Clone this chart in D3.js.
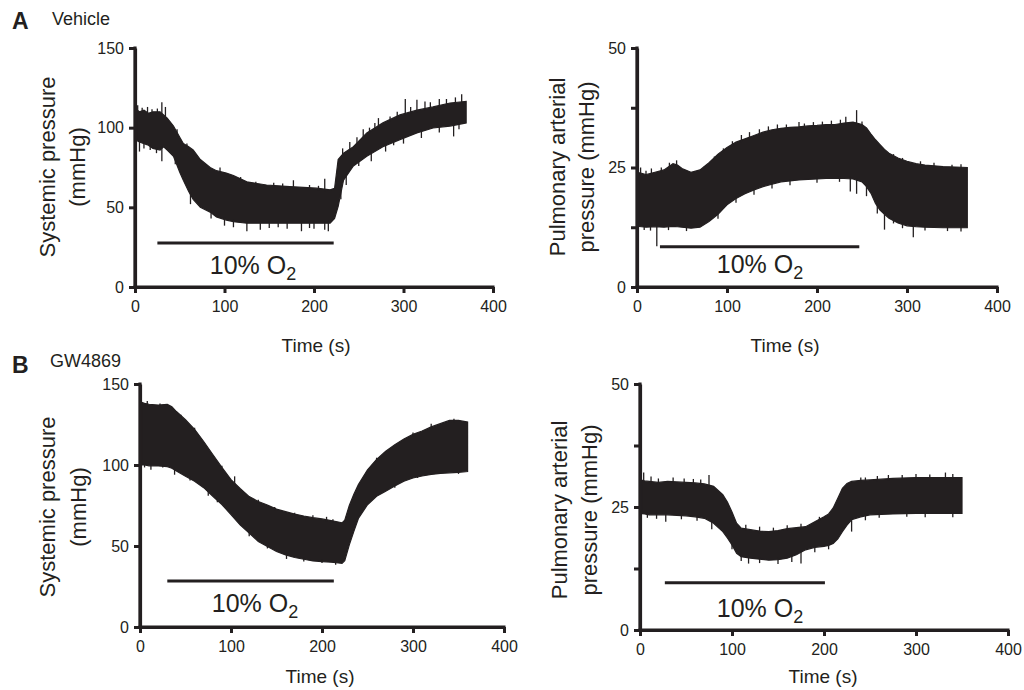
<!DOCTYPE html>
<html><head><meta charset="utf-8">
<script src="https://cdn.jsdelivr.net/npm/d3@7"></script>
<style>
body{margin:0;background:#fff}
text{font-family:"Liberation Sans",Arial,Helvetica,sans-serif;fill:#231f20}
</style></head>
<body><svg id="c" width="1024" height="690"></svg>
<script>
// ---------- DATA ----------
// Panel A, systemic pressure (Vehicle)
const timeA1  = [0,5,10,15,20,28,32,36,43,50,54,60,65,73,84,91,102,110,125,147,173,203,218,223,227,233,244,259,277,296,315,333,352,370];
const upperA1 = [112,110,111,109,110,110,108,106,101,94,90,88,86,80,75,73,71.5,70,66,64,63,62,61,62,80,84,88,96.7,103,108,111,113,115.5,116.5];
const lowerA1 = [92.5,91,90,89,87,86,88,86,82,72,67,60,55,50,47,44,42,41,40,40,40,40,40,43,50.6,67,76,82,88,92.5,96.7,99.8,101,103];
const spikesUpA1 = [[3,114],[8,112.5],[14,113],[19,111.5],[25,112],[30,116],[34,113],[47,99],[58,90],[95,75],[118,69],[135,66],[155,65.5],[165,65],[177,67],[195,64],[205,63.5],[212,68],
  [232,87],[240,91],[248,94],[255,99],[262,100],[268,103],[272,106],[285,107],[293,110],[302,118],[308,113],[315,117.5],[324,116.5],[330,116],[340,118],[348,118],[358,119],[365,121]];
const spikesDnA1 = [[5,85],[10,87],[17,86],[24,84],[30,79],[45,77],[62,52],[85,43],[100,38.5],[110,37.5],[125,35],[140,36],[150,37],[160,37.5],[170,36.5],[186,35],[195,37],[200,36.5],[212,36],[216,35],
  [230,55],[236,64],[250,76],[264,79],[280,85],[289,89],[300,90],[320,93.5],[340,97],[356,94.5],[362,99]];

// Panel A, pulmonary arterial pressure (Vehicle)
const timeA2  = [0,5,10,20,30,40,45,50,60,70,80,90,100,110,120,130,140,150,160,170,180,190,200,210,220,230,240,250,255,260,265,270,275,280,290,300,310,320,340,367];
const upperA2 = [24,23.8,23.5,24,24.5,25.8,25.5,24.8,24,24.5,26,27.8,29.2,30.3,31,31.7,32.4,32.9,33.2,33.4,33.5,33.7,33.8,34,34,34.3,34.5,34,33.3,32,30.8,29.8,28.8,28,27,26.3,25.8,25.5,25.2,25];
const lowerA2 = [12.7,12.6,12.5,12.6,12.5,12.7,12.6,12.5,12.3,12.5,13.7,15.2,17.2,18.5,19.5,20.3,21,21.5,22,22.2,22.4,22.5,22.6,22.7,22.7,22.7,22.6,22,21,19.6,17.5,16.1,15.2,14.4,13.4,12.8,12.6,12.5,12.4,12.4];
const spikesUpA2 = [[4,25],[10,24.3],[16,24.8],[27,25],[36,26],[44,26.5],[75,25.3],[86,27.3],[96,29],[106,30.5],[116,31.8],[125,32.4],[136,33],[146,33.6],[156,34],[166,34],[180,34.5],[186,34.2],[196,34.5],[206,34.6],[216,34.8],[226,35],[232,35.6],[244,37],[250,34.6],[285,27.8],[295,27],[315,26.3],[330,26],[350,25.6],[360,25.7]];
const spikesDnA2 = [[8,11.9],[15,11.8],[22,8.5],[35,11.9],[55,11.7],[90,14.3],[110,17.6],[130,19.3],[150,20.6],[170,21.3],[200,21.8],[225,22],[237,20],[244,19.5],[255,19],[267,15.4],[275,12],[285,13.3],[295,12.3],[307,10.4],[320,11.8],[345,11.7],[360,11.6]];

// Panel B, systemic pressure (GW4869)
const timeB1  = [0,5,10,20,30,35,40,50,60,70,80,90,100,110,120,130,140,150,160,170,180,190,200,210,218,222,225,230,235,240,250,260,270,280,290,300,310,320,330,340,350,360];
const upperB1 = [139,138,137.5,137,137.5,136,133,128,122,114.5,106.5,98.5,91,85.5,80.5,77.5,75.3,72.8,71.2,69.7,68.5,67.5,66.7,65.7,64.8,64.3,66,75,82,88,97,103.5,108.5,112.5,116,119,121,123.5,125.5,127.5,127.5,126.5];
const lowerB1 = [100,100,99.5,99.4,99,98,96.3,93,90,86,80.7,75.6,69.4,63,58,52.8,49.7,46.6,44.5,42.9,41.8,40.8,40.4,40,39.5,39.3,41,50.7,59,67,75.5,80.7,83.8,87,90,92,93.2,94.2,94.8,95.2,95.5,96];
const spikesUpB1 = [[8,139.5],[22,138],[45,131],[60,123],[90,99.5],[104,93],[130,78.5],[148,74],[170,70.5],[190,69],[205,68],[212,66.5],[260,104.5],[300,120],[320,125.5],[345,128.5]];
const spikesDnB1 = [[5,98.5],[12,97],[25,98.5],[38,94],[55,90.5],[75,81],[85,77],[120,56],[140,48.5],[161,42],[180,40.5],[200,39.5],[215,38.5],[280,86],[305,92],[350,94.5]];

// Panel B, pulmonary arterial pressure (GW4869)
const timeB2  = [0,5,10,20,30,40,50,60,70,80,90,95,100,105,110,120,130,140,150,160,170,180,190,200,205,210,215,220,225,230,240,250,275,300,325,350];
const upperB2 = [30.5,30.3,30.2,30,30.2,30.1,30,29.9,29.7,29.2,27.5,26,24,21.7,20.7,20.4,20.1,20,20.2,20.6,20.8,21,22,23,23.6,24.8,26.8,28.8,29.8,30.2,30.4,30.5,30.8,31,31,31];
const lowerB2 = [23.7,23.6,23.4,23.4,23.4,23.3,23.2,23,22.7,21.7,20,18.7,17.3,15.6,14.9,14.6,14.4,14.2,14.3,14.6,15.3,16.3,16.8,17,17.2,17.6,18.5,20,21.3,22.4,23,23.4,23.6,23.7,23.7,23.7];
const spikesUpB2 = [[4,32],[12,31.2],[20,30.8],[36,31],[48,30.8],[58,30.7],[66,30.6],[75,31.5],[115,21.4],[130,21],[145,20.8],[160,21.3],[175,21.6],[195,23],[240,31],[245,31],[258,31.3],[270,31.5],[285,31.5],[300,31.7],[315,31.6],[332,32],[340,31.7]];
const spikesDnB2 = [[8,22.8],[18,22.6],[28,22],[45,22.5],[62,22.2],[78,20.5],[100,16.4],[110,14],[118,13.5],[130,13.6],[150,13.4],[165,13.8],[175,13.5],[190,15.8],[205,16.4],[230,20],[245,22.3],[260,22.8],[290,23],[310,22.9],[340,22.9]];

// Hypoxia bars [start s, end s, level]
const hypoxiaA1 = [25, 222, 27.6];
const hypoxiaA2 = [25.5, 247, 8.4];
const hypoxiaB1 = [30, 213, 28.4];
const hypoxiaB2 = [27, 201, 9.6];

// Axis ticks
const xTicks = [0, 100, 200, 300, 400];
const ySysTicks = [0, 50, 100, 150];
const yPapTicks = [0, 12.5, 25, 37.5, 50];
const yPapLabels = [0, 25, 50];

const sysTitle = ["Systemic pressure", "(mmHg)"];
const papTitle = ["Pulmonary arterial", "pressure (mmHg)"];
const xTitle = "Time (s)";
const gasLabel = ["10% O", "2"];
const groupLetters = ["A", "B"];
const groupNames = ["Vehicle", "GW4869"];

// ---------- LAYOUT ----------
const ink = "#231f20";
const svg = d3.select("#c");
svg.append("rect").attr("width",1024).attr("height",690).attr("fill","#fff");

const panels = [
  {t:timeA1,u:upperA1,l:lowerA1,su:spikesUpA1,sd:spikesDnA1,hyp:hypoxiaA1,yMax:150,yt:ySysTicks,yl:ySysTicks,title:sysTitle,
   box:{x0:135,x1:493,yT:48,yB:287},titleX:[47,77],titleY:167,timeX:316,timeY:352,gasX:253,gasY:274},
  {t:timeA2,u:upperA2,l:lowerA2,su:spikesUpA2,sd:spikesDnA2,hyp:hypoxiaA2,yMax:50,yt:yPapTicks,yl:yPapLabels,title:papTitle,
   box:{x0:637,x1:997,yT:48,yB:287},titleX:[557,586],titleY:167,timeX:785,timeY:352,gasX:760,gasY:273},
  {t:timeB1,u:upperB1,l:lowerB1,su:spikesUpB1,sd:spikesDnB1,hyp:hypoxiaB1,yMax:150,yt:ySysTicks,yl:ySysTicks,title:sysTitle,
   box:{x0:140,x1:504,yT:384,yB:627},titleX:[47,78],titleY:507,timeX:320,timeY:683,gasX:255,gasY:612},
  {t:timeB2,u:upperB2,l:lowerB2,su:spikesUpB2,sd:spikesDnB2,hyp:hypoxiaB2,yMax:50,yt:yPapTicks,yl:yPapLabels,title:papTitle,
   box:{x0:640,x1:1008,yT:384,yB:630},titleX:[559,589],titleY:510,timeX:823,timeY:683,gasX:760,gasY:617}
];

panels.forEach(p => {
  const x = d3.scaleLinear().domain([0,400]).range([p.box.x0,p.box.x1]);
  const y = d3.scaleLinear().domain([0,p.yMax]).range([p.box.yB,p.box.yT]);
  const g = svg.append("g");
  const pts = p.t.map((t,i)=>({t, u:p.u[i], l:p.l[i]}));

  // trace band
  g.append("path").datum(pts)
    .attr("d", d3.area().x(d=>x(d.t)).y0(d=>y(d.l)).y1(d=>y(d.u)))
    .attr("fill", ink).attr("stroke", ink).attr("stroke-width", 1.2);

  // spikes, drawn from the band edge outward
  const interp = (arr, t) => {
    const i = d3.bisector(d=>d).left(p.t, t);
    if (i<=0) return arr[0];
    if (i>=p.t.length) return arr[arr.length-1];
    const f = (t-p.t[i-1])/(p.t[i]-p.t[i-1]);
    return arr[i-1] + f*(arr[i]-arr[i-1]);
  };
  g.selectAll(".su").data(p.su).join("line")
    .attr("x1", d=>x(d[0])).attr("x2", d=>x(d[0]))
    .attr("y1", d=>y(d[1])).attr("y2", d=>y(interp(p.u,d[0]))+2)
    .attr("stroke", ink).attr("stroke-width", 1.3);
  g.selectAll(".sd").data(p.sd).join("line")
    .attr("x1", d=>x(d[0])).attr("x2", d=>x(d[0]))
    .attr("y1", d=>y(d[1])).attr("y2", d=>y(interp(p.l,d[0]))-2)
    .attr("stroke", ink).attr("stroke-width", 1.3);

  // axes
  const ax = g.append("g").attr("transform",`translate(0,${p.box.yB})`)
    .call(d3.axisBottom(x).tickValues(xTicks).tickSize(6).tickSizeOuter(0).tickPadding(8));
  const ay = g.append("g").attr("transform",`translate(${p.box.x0},0)`)
    .call(d3.axisLeft(y).tickValues(p.yt).tickSize(6).tickSizeOuter(0).tickPadding(5)
      .tickFormat(d => p.yl.includes(d) ? d3.format("d")(d) : ""));
  [ax,ay].forEach(a=>{
    a.select(".domain").style("stroke",ink).style("stroke-width","3.2px");
    a.selectAll(".tick line").style("stroke",ink).style("stroke-width","3px");
    a.selectAll(".tick text").style("fill",ink).style("font-size","16px")
      .style("font-family",'"Liberation Sans",Arial,sans-serif');
  });
  // reinforce axis lines (thick, like the original)
  g.append("line").attr("x1",x(0)-1.5).attr("x2",x(400)+1.5).attr("y1",y(0)).attr("y2",y(0))
    .style("stroke",ink).style("stroke-width","3.2px");
  g.append("line").attr("x1",x(0)).attr("x2",x(0)).attr("y1",y(0)+1.5).attr("y2",y(p.yMax)-1.5)
    .style("stroke",ink).style("stroke-width","3.2px");

  // hypoxia bar and label
  g.append("line").attr("x1",x(p.hyp[0])).attr("x2",x(p.hyp[1]))
    .attr("y1",y(p.hyp[2])).attr("y2",y(p.hyp[2]))
    .style("stroke",ink).style("stroke-width","3px");
  const gt = g.append("text").attr("x",p.gasX).attr("y",p.gasY)
    .attr("text-anchor","middle").style("font-size","25px");
  gt.append("tspan").text(gasLabel[0]);
  gt.append("tspan").attr("dy",6).style("font-size","18px").text(gasLabel[1]);

  // y title
  p.title.forEach((s,i)=>{
    g.append("text").attr("transform",`translate(${p.titleX[i]},${p.titleY}) rotate(-90)`)
      .attr("text-anchor","middle").attr("dominant-baseline","central")
      .style("font-size","22px").text(s);
  });
  // x title
  g.append("text").attr("x",p.timeX).attr("y",p.timeY).attr("text-anchor","middle")
    .style("font-size","19px").text(xTitle);
});

// group letters
[[12,29,52,25],[12,373,50,367]].forEach((pos,i)=>{
  svg.append("text").attr("x",pos[0]).attr("y",pos[1]).style("font-size","23px")
    .style("font-weight","bold").text(groupLetters[i]);
  svg.append("text").attr("x",pos[2]).attr("y",pos[3]).style("font-size","18px").text(groupNames[i]);
});
</script></body></html>
